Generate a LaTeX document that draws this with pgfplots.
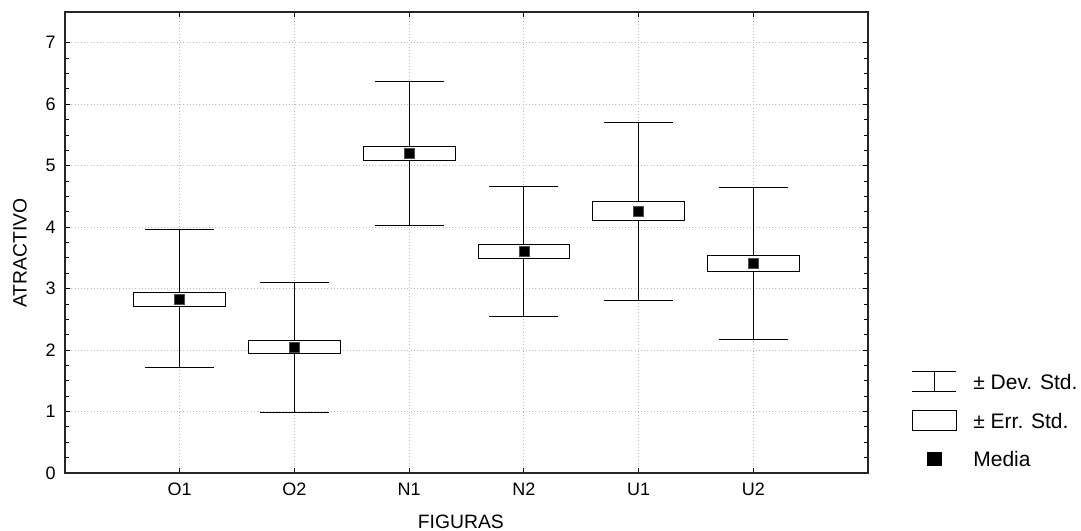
\documentclass[border=0pt]{standalone}
\usepackage{fontspec}
\setmainfont{Liberation Sans}
\usepackage{pgfplots}
\pgfplotsset{compat=1.18}
\usepgfplotslibrary{statistics}

\begin{document}
\begin{tikzpicture}
\begin{axis}[
  scale only axis,
  width=602.25pt, height=345.75pt,
  xmin=0, xmax=7, ymin=0, ymax=7.5,
  xtick={1,2,3,4,5,6},
  xticklabels={O1,O2,N1,N2,U1,U2},
  ytick={0,1,2,3,4,5,6,7},
  minor y tick num=3,
  tick align=inside,
  major tick length=4pt, minor tick length=3pt,
  tick style={black, line width=0.6pt},
  axis line style={black!85, line width=0.8pt},
  grid=major,
  major grid style={gray!55, dotted, line width=0.6pt},
  /pgf/number format/assume math mode=true,
  ticklabel style={font=\fontsize{13.5}{16}\selectfont},
  xticklabel style={yshift=-4pt},
  yticklabel style={xshift=-3.5pt},
  label style={font=\fontsize{14.5}{17}\selectfont},
  xlabel={FIGURAS}, ylabel={ATRACTIVO},
  xlabel style={at={(axis description cs:0.493,-0.107)}, anchor=center},
  ylabel style={at={(axis description cs:-0.056,0.477)}, anchor=center},
  boxplot/draw direction=y,
  legend style={draw=none, fill=none, at={(1,0)}, anchor=south west,
    xshift=32.8pt, yshift=2.35pt, inner sep=0pt, outer sep=0pt,
    row sep=12.9pt, column sep=12.5pt,
    font=\fontsize{15.75}{18}\selectfont,
    nodes={inner sep=0pt, text depth=0pt}},
  legend cell align=left,
]
% +/- SD whiskers and +/- SE boxes
\addplot[forget plot, black, line width=0.7pt, fill=white, boxplot prepared={draw position=1, lower whisker=1.71, lower quartile=2.71, median=2.71, upper quartile=2.94, upper whisker=3.96, box extend=0.8, whisker extend=0.6}] coordinates {};
\addplot[forget plot, black, line width=0.7pt, fill=white, boxplot prepared={draw position=2, lower whisker=0.99, lower quartile=1.94, median=1.94, upper quartile=2.15, upper whisker=3.10, box extend=0.8, whisker extend=0.6}] coordinates {};
\addplot[forget plot, black, line width=0.7pt, fill=white, boxplot prepared={draw position=3, lower whisker=4.03, lower quartile=5.08, median=5.08, upper quartile=5.32, upper whisker=6.375, box extend=0.8, whisker extend=0.6}] coordinates {};
\addplot[forget plot, black, line width=0.7pt, fill=white, boxplot prepared={draw position=4, lower whisker=2.545, lower quartile=3.49, median=3.49, upper quartile=3.715, upper whisker=4.665, box extend=0.8, whisker extend=0.6}] coordinates {};
\addplot[forget plot, black, line width=0.7pt, fill=white, boxplot prepared={draw position=5, lower whisker=2.815, lower quartile=4.11, median=4.11, upper quartile=4.41, upper whisker=5.71, box extend=0.8, whisker extend=0.6}] coordinates {};
\addplot[forget plot, black, line width=0.7pt, fill=white, boxplot prepared={draw position=6, lower whisker=2.17, lower quartile=3.275, median=3.275, upper quartile=3.535, upper whisker=4.645, box extend=0.8, whisker extend=0.6}] coordinates {};
% means
\addplot[forget plot, only marks, mark=square*, mark size=3.75pt, mark options={fill=black, draw=black!70, line width=0.5pt}] coordinates {
  (1,2.83) (2,2.04) (3,5.20) (4,3.60) (5,4.265) (6,3.405)
};
% legend
\addlegendimage{legend image code/.code={
  \path[draw=none, fill=none] (0pt,-8pt) rectangle (33pt,8pt);
  \draw[black, line width=0.7pt, fill=none] (0pt,-7.5pt) -- (33pt,-7.5pt) (0pt,7.5pt) -- (33pt,7.5pt) (16.5pt,-7.5pt) -- (16.5pt,7.5pt);}}
\addlegendentry{± Dev. Std.}
\addlegendimage{legend image code/.code={
  \path[draw=none, fill=none] (0pt,-8pt) rectangle (33pt,8pt);
  \draw[black, line width=0.7pt, fill=white] (0pt,-7.75pt) rectangle (33pt,7.75pt);}}
\addlegendentry{± Err. Std.}
\addlegendimage{legend image code/.code={
  \path[draw=none, fill=none] (0pt,-8pt) rectangle (33pt,8pt);
  \fill[black] (11.5pt,-4.9pt) rectangle (21.5pt,4.9pt);}}
\addlegendentry{Media}
\end{axis}
\pgfresetboundingbox
\path (current axis.south west) ++(-48.75pt,-43.5pt) rectangle ++(810.75pt,398.25pt);
\end{tikzpicture}
\end{document}
